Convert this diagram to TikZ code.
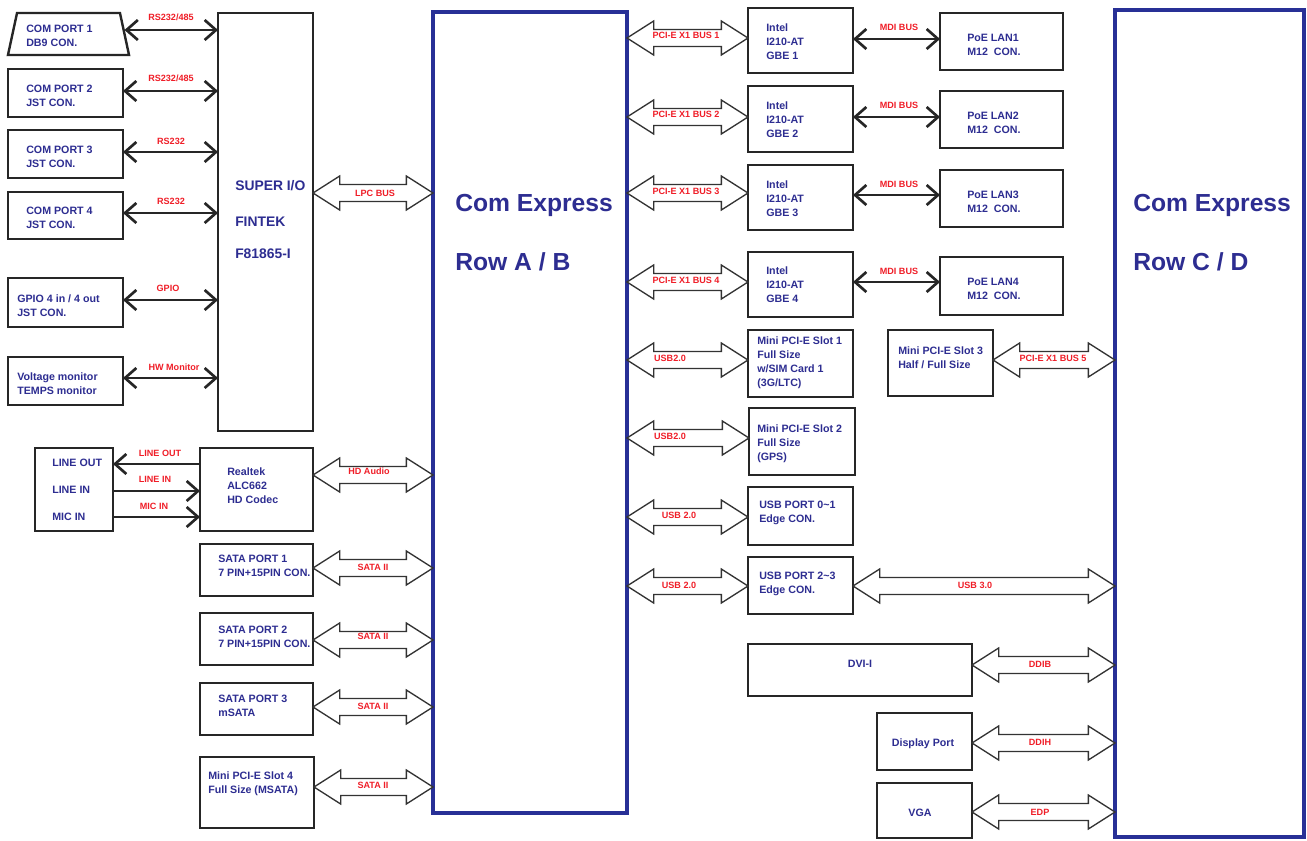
\documentclass[tikz,border=0pt]{standalone}
\usepackage{fontspec}
\setmainfont{Liberation Sans}
\usetikzlibrary{arrows.meta,calc}
\definecolor{navy}{RGB}{45,45,145}
\definecolor{lblred}{RGB}{240,30,40}
\definecolor{cblue}{RGB}{40,48,150}
\tikzset{
 box/.style={draw=black!85, line width=1.8pt, inner sep=0pt, outer sep=0pt},
 boxline/.style={draw=black!85, line width=1.8pt, line join=miter},
 cebox/.style={draw=cblue, line width=2.8pt, inner sep=0pt, outer sep=0pt},
 txt/.style={font=\bfseries\fontsize{8}{10.5}\selectfont, text=navy, align=left, inner sep=0pt, anchor=west},
 bigtxt/.style={font=\bfseries\fontsize{18.5}{22}\selectfont, text=navy, inner sep=0pt, anchor=base west},
 midtxt/.style={font=\bfseries\fontsize{10.4}{12}\selectfont, text=navy, inner sep=0pt, anchor=west},
 lbl/.style={font=\bfseries\fontsize{6.8}{7}\selectfont, text=lblred, inner sep=0pt},
 conn/.style={line width=2pt, draw=black!85},
 dbl/.style={{Straight Barb[length=8.5pt,width=15pt]}-{Straight Barb[length=8.5pt,width=15pt]}},
 sgl/.style={-{Straight Barb[length=8.5pt,width=15pt]}},
 hollow/.style={draw=black!80, line width=1pt, fill=white, line join=miter},
}
\newcommand\bx[5]{\node[box, minimum width={(#4-#2)*0.75pt}, minimum height={(#5-#3)*0.75pt}] (#1) at ({(#2+#4)/2},{(#3+#5)/2}) {};}
\newcommand\harrow[3]{%
\draw[hollow] let \p1=(#1.east |- 0,#3), \p2=(#2.west |- 0,#3) in
 (\p1) -- (\x1+20pt,\y1+12.75pt) -- (\x1+20pt,\y1+6.4pt) -- (\x2-20pt,\y1+6.4pt) -- (\x2-20pt,\y1+12.75pt) -- (\p2)
 -- (\x2-20pt,\y1-12.75pt) -- (\x2-20pt,\y1-6.4pt) -- (\x1+20pt,\y1-6.4pt) -- (\x1+20pt,\y1-12.75pt) -- cycle;}
\begin{document}
\begin{tikzpicture}[x=0.75pt,y=-0.75pt]
\useasboundingbox[fill=white] (0,0) rectangle (1307,840);

% ---------- left column ----------
\node[inner sep=0pt, outer sep=0pt, minimum width={112*0.75pt}, minimum height={42*0.75pt}] (c1) at (68.5,34) {};
\draw[boxline] ([xshift=-3.4pt]c1.south west) -- ([xshift=3.4pt]c1.south east)
  -- ([xshift=-3.4pt]c1.north east) -- ([xshift=3.4pt]c1.north west) -- cycle;
\bx{c2}{8}{69}{123}{117}
\bx{c3}{8}{130}{123}{178}
\bx{c4}{8}{192}{123}{239}
\bx{gpio}{8}{278}{123}{327}
\bx{hw}{8}{357}{123}{405}
\bx{sio}{218}{13}{313}{431}
\bx{line}{35}{448}{113}{531}
\bx{rtk}{200}{448}{313}{531}
\bx{sata1}{200}{544}{313}{596}
\bx{sata2}{200}{613}{313}{665}
\bx{sata3}{200}{683}{313}{735}
\bx{mpcie4}{200}{757}{314}{828}

\node[cebox, minimum width={194*0.75pt}, minimum height={801*0.75pt}] (ceab) at (530,412.5) {};
\node[cebox, minimum width={189*0.75pt}, minimum height={827*0.75pt}] (cecd) at (1209.5,423.5) {};

% ---------- right of A/B ----------
\bx{gbe1}{748}{8}{853}{73}
\bx{lan1}{940}{13}{1063}{70}
\bx{gbe2}{748}{86}{853}{152}
\bx{lan2}{940}{91}{1063}{148}
\bx{gbe3}{748}{165}{853}{230}
\bx{lan3}{940}{170}{1063}{227}
\bx{gbe4}{748}{252}{853}{317}
\bx{lan4}{940}{257}{1063}{315}
\bx{mp1}{748}{330}{853}{397}
\bx{mp3}{888}{330}{993}{396}
\bx{mp2}{749}{408}{855}{475}
\bx{usb01}{748}{487}{853}{545}
\bx{usb23}{748}{557}{853}{614}
\bx{dvi}{748}{644}{972}{696}
\bx{dp}{877}{713}{972}{770}
\bx{vga}{877}{783}{972}{838}

% ---------- texts ----------
\node[txt] (t-c1) at (26,36) {COM PORT 1\\DB9 CON.};
\node[txt] (t-c2) at (26,96) {COM PORT 2\\JST CON.};
\node[txt] (t-c3) at (26,157) {COM PORT 3\\JST CON.};
\node[txt] (t-c4) at (26,218) {COM PORT 4\\JST CON.};
\node[txt] (t-gpio) at (17,306) {GPIO 4 in / 4 out\\JST CON.};
\node[txt] (t-hw) at (17,384) {Voltage monitor\\TEMPS monitor};
\node[midtxt] (t-sio1) at (235,186) {SUPER I/O};
\node[midtxt] (t-sio2) at (235,222) {FINTEK};
\node[midtxt] (t-sio3) at (235,254) {F81865-I};
\node[txt] (t-lo) at (52,463) {LINE OUT};
\node[txt] (t-li) at (52,490) {LINE IN};
\node[txt] (t-mi) at (52,517) {MIC IN};
\node[txt] (t-rtk) at (227,486) {Realtek\\ALC662\\HD Codec};
\node[txt] (t-s1) at (218,566) {SATA PORT 1\\7 PIN+15PIN CON.};
\node[txt] (t-s2) at (218,637) {SATA PORT 2\\7 PIN+15PIN CON.};
\node[txt] (t-s3) at (218,706) {SATA PORT 3\\mSATA};
\node[txt] (t-m4) at (208,784) {Mini PCI-E Slot 4\\Full Size (MSATA)};
\node[bigtxt] (t-ab1) at (455,211) {Com Express};
\node[bigtxt] (t-ab2) at (455,270) {Row A / B};
\node[bigtxt] (t-cd1) at (1133,211) {Com Express};
\node[bigtxt] (t-cd2) at (1133,270) {Row C / D};
\node[txt] (t-g1) at (766,42) {Intel\\I210-AT\\GBE 1};
\node[txt] (t-g2) at (766,120) {Intel\\I210-AT\\GBE 2};
\node[txt] (t-g3) at (766,199) {Intel\\I210-AT\\GBE 3};
\node[txt] (t-g4) at (766,285) {Intel\\I210-AT\\GBE 4};
\node[txt] (t-l1) at (967,45) {PoE LAN1\\M12\ \ CON.};
\node[txt] (t-l2) at (967,123) {PoE LAN2\\M12\ \ CON.};
\node[txt] (t-l3) at (967,202) {PoE LAN3\\M12\ \ CON.};
\node[txt] (t-l4) at (967,289) {PoE LAN4\\M12\ \ CON.};
\node[txt] (t-mp1) at (757,363) {Mini PCI-E Slot 1\\Full Size\\w/SIM Card 1\\(3G/LTC)};
\node[txt] (t-mp3) at (898,358) {Mini PCI-E Slot 3\\Half / Full Size};
\node[txt] (t-mp2) at (757,444) {Mini PCI-E Slot 2\\Full Size\\(GPS)};
\node[txt] (t-u01) at (759,513) {USB PORT 0\textasciitilde 1\\Edge CON.};
\node[txt] (t-u23) at (759,584) {USB PORT 2\textasciitilde 3\\Edge CON.};
\node[txt, anchor=center] (t-dvi) at (860,664) {DVI-I};
\node[txt, anchor=center] (t-dp) at (923,744) {Display Port};
\node[txt, anchor=center] (t-vga) at (920,813) {VGA};

% ---------- thin connectors ----------
\draw[conn, dbl] (c1.east |- 0,30) -- (sio.west |- 0,30);
\draw[conn, dbl] (c2.east |- 0,91) -- (sio.west |- 0,91);
\draw[conn, dbl] (c3.east |- 0,152) -- (sio.west |- 0,152);
\draw[conn, dbl] (c4.east |- 0,213) -- (sio.west |- 0,213);
\draw[conn, dbl] (gpio.east |- 0,300) -- (sio.west |- 0,300);
\draw[conn, dbl] (hw.east |- 0,378) -- (sio.west |- 0,378);
\draw[conn, sgl] (rtk.west |- 0,464) -- (line.east |- 0,464);
\draw[conn, sgl] (line.east |- 0,491) -- (rtk.west |- 0,491);
\draw[conn, sgl] (line.east |- 0,517) -- (rtk.west |- 0,517);
\draw[conn, dbl] (gbe1.east |- 0,39) -- (lan1.west |- 0,39);
\draw[conn, dbl] (gbe2.east |- 0,117) -- (lan2.west |- 0,117);
\draw[conn, dbl] (gbe3.east |- 0,195) -- (lan3.west |- 0,195);
\draw[conn, dbl] (gbe4.east |- 0,282) -- (lan4.west |- 0,282);

% ---------- hollow bus arrows ----------
\harrow{sio}{ceab}{193}
\harrow{rtk}{ceab}{475}
\harrow{sata1}{ceab}{568}
\harrow{sata2}{ceab}{640}
\harrow{sata3}{ceab}{707}
\harrow{mpcie4}{ceab}{787}
\harrow{ceab}{gbe1}{38}
\harrow{ceab}{gbe2}{117}
\harrow{ceab}{gbe3}{193}
\harrow{ceab}{gbe4}{282}
\harrow{ceab}{mp1}{360}
\harrow{ceab}{mp2}{438}
\harrow{ceab}{usb01}{517}
\harrow{ceab}{usb23}{586}
\harrow{usb23}{cecd}{586}
\harrow{mp3}{cecd}{360}
\harrow{dvi}{cecd}{665}
\harrow{dp}{cecd}{743}
\harrow{vga}{cecd}{812}

% ---------- red labels ----------
\node[lbl] (lb1) at (171,17) {RS232/485};
\node[lbl] (lb2) at (171,78) {RS232/485};
\node[lbl] (lb3) at (171,141) {RS232};
\node[lbl] (lb4) at (171,201) {RS232};
\node[lbl] (lb5) at (168,288) {GPIO};
\node[lbl] (lb6) at (174,367) {HW Monitor};
\node[lbl] (lb7) at (160,453) {LINE OUT};
\node[lbl] (lb8) at (155,479) {LINE IN};
\node[lbl] (lb9) at (154,506) {MIC IN};
\node[lbl] (lb10) at (375,193) {LPC BUS};
\node[lbl] (lb11) at (369,471) {HD Audio};
\node[lbl] (lb12) at (373,567) {SATA II};
\node[lbl] (lb13) at (373,636) {SATA II};
\node[lbl] (lb14) at (373,706) {SATA II};
\node[lbl] (lb15) at (373,785) {SATA II};
\node[lbl] (lb16) at (686,35) {PCI-E X1 BUS 1};
\node[lbl] (lb17) at (686,114) {PCI-E X1 BUS 2};
\node[lbl] (lb18) at (686,191) {PCI-E X1 BUS 3};
\node[lbl] (lb19) at (686,280) {PCI-E X1 BUS 4};
\node[lbl] (lb20) at (899,27) {MDI BUS};
\node[lbl] (lb21) at (899,105) {MDI BUS};
\node[lbl] (lb22) at (899,184) {MDI BUS};
\node[lbl] (lb23) at (899,271) {MDI BUS};
\node[lbl] (lb24) at (670,358) {USB2.0};
\node[lbl] (lb25) at (670,436) {USB2.0};
\node[lbl] (lb26) at (679,515) {USB 2.0};
\node[lbl] (lb27) at (679,585) {USB 2.0};
\node[lbl] (lb28) at (975,585) {USB 3.0};
\node[lbl] (lb29) at (1053,358) {PCI-E X1 BUS 5};
\node[lbl] (lb30) at (1040,664) {DDIB};
\node[lbl] (lb31) at (1040,742) {DDIH};
\node[lbl] (lb32) at (1040,812) {EDP};
\end{tikzpicture}
\end{document}
